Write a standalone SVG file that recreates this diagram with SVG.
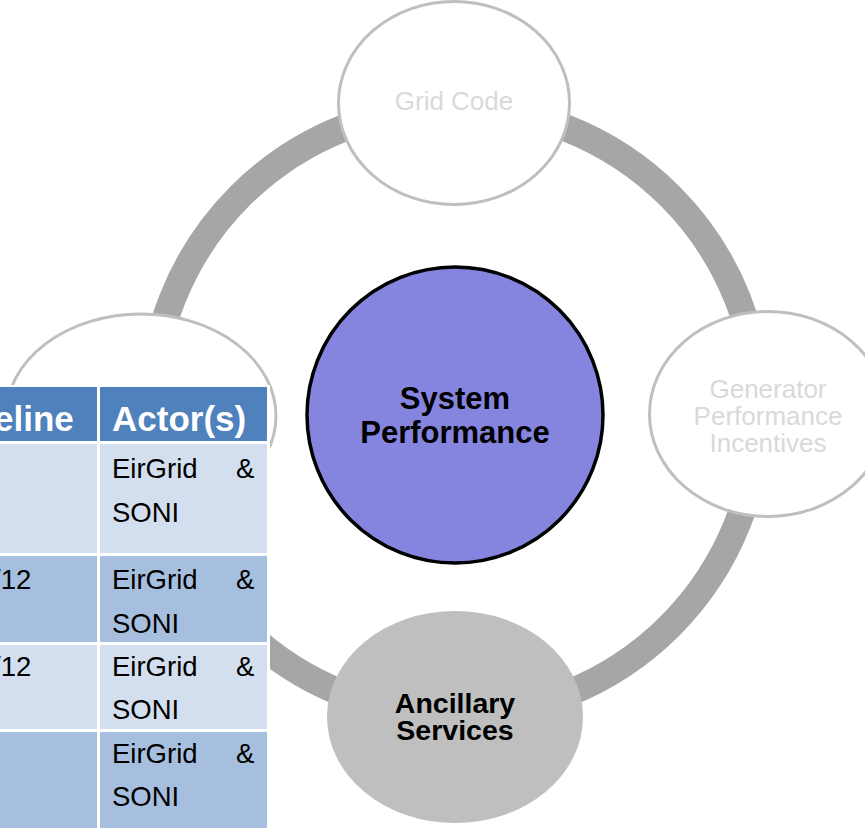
<svg xmlns="http://www.w3.org/2000/svg" width="865" height="828" viewBox="0 0 865 828">
<style>
.ring{fill:none;stroke:#A6A6A6;stroke-width:27}
.outline{fill:#FFFFFF;stroke:#BFBFBF;stroke-width:3}
.faint{font-family:"Liberation Sans",Arial,sans-serif;font-size:26px;fill:#D9D9D9;text-anchor:middle}
.bold{font-family:"Liberation Sans",Arial,sans-serif;font-weight:bold;fill:#000000;text-anchor:middle}
.hdr{fill:#4F81BD}
.light{fill:#D3DFEE}
.dark{fill:#A7BFDE}
.th{font-family:"Liberation Sans",Arial,sans-serif;font-weight:bold;font-size:35px;fill:#FFFFFF}
.td{font-family:"Liberation Sans",Arial,sans-serif;font-size:27.5px;fill:#000000}
</style>
<rect width="865" height="828" fill="#FFFFFF"/>
<g id="connectors">
<circle class="ring" cx="455" cy="411" r="304"/>
</g>
<g id="node-left">
<ellipse class="outline" cx="141" cy="416" rx="135" ry="102"/>
</g>
<g id="node-grid-code">
<ellipse class="outline" cx="454" cy="103" rx="115.5" ry="101.5"/>
<text class="faint" x="454" y="110">Grid Code</text>
</g>
<g id="node-generator">
<ellipse class="outline" cx="768" cy="414" rx="118.5" ry="102.5"/>
<text class="faint" x="768" y="398">Generator</text>
<text class="faint" x="768" y="425">Performance</text>
<text class="faint" x="768" y="452">Incentives</text>
</g>
<g id="node-ancillary">
<ellipse cx="455" cy="717" rx="128" ry="106" fill="#BFBFBF"/>
<text class="bold" x="455" y="713" font-size="28.5">Ancillary</text>
<text class="bold" x="455" y="740" font-size="28.5">Services</text>
</g>
<g id="node-system">
<circle cx="455" cy="415" r="148" fill="#8585E0" stroke="#000000" stroke-width="3.5"/>
<text class="bold" x="455" y="409" font-size="31">System</text>
<text class="bold" x="455" y="443" font-size="31">Performance</text>
</g>
<g id="table">
<rect x="-10" y="385" width="280" height="450" fill="#FFFFFF"/>
<rect class="hdr" x="-10" y="387" width="107" height="54"/>
<rect class="hdr" x="100" y="387" width="167" height="54"/>
<rect class="light" x="-10" y="444" width="107" height="109"/>
<rect class="light" x="100" y="444" width="167" height="109"/>
<rect class="dark" x="-10" y="556" width="107" height="86"/>
<rect class="dark" x="100" y="556" width="167" height="86"/>
<rect class="light" x="-10" y="645" width="107" height="84"/>
<rect class="light" x="100" y="645" width="167" height="84"/>
<rect class="dark" x="-10" y="732" width="107" height="100"/>
<rect class="dark" x="100" y="732" width="167" height="100"/>
<text class="th" x="-6" y="431">eline</text>
<text class="th" x="112" y="431">Actor(s)</text>
<text class="td" x="112" y="478">EirGrid</text><text class="td" x="236" y="478">&amp;</text>
<text class="td" x="112" y="522">SONI</text>
<text class="td" x="-7" y="589">/12</text>
<text class="td" x="112" y="589">EirGrid</text><text class="td" x="236" y="589">&amp;</text>
<text class="td" x="112" y="633">SONI</text>
<text class="td" x="-7" y="676">/12</text>
<text class="td" x="112" y="676">EirGrid</text><text class="td" x="236" y="676">&amp;</text>
<text class="td" x="112" y="719">SONI</text>
<text class="td" x="112" y="763">EirGrid</text><text class="td" x="236" y="763">&amp;</text>
<text class="td" x="112" y="806">SONI</text>
</g>
</svg>
